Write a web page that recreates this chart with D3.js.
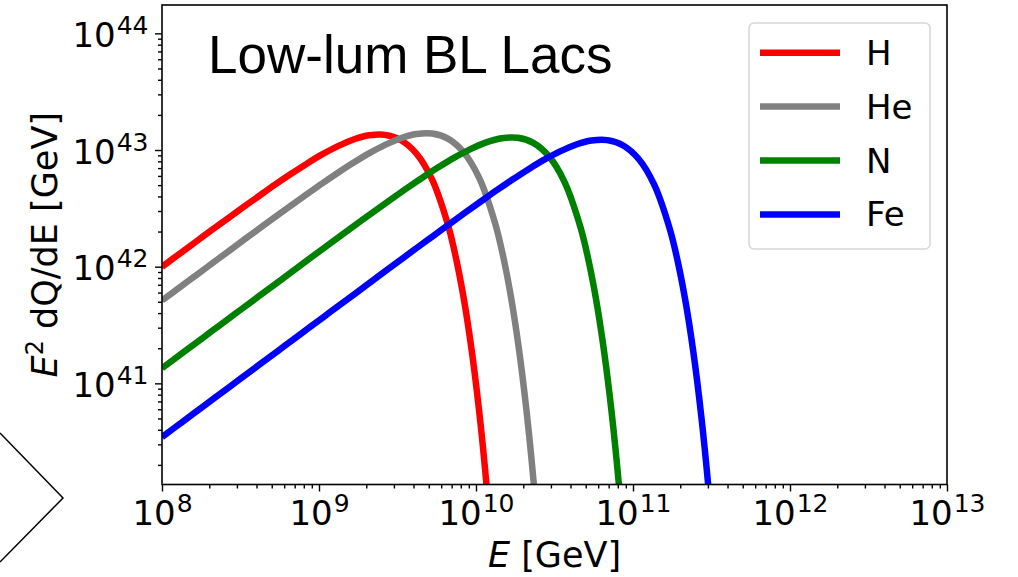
<!DOCTYPE html>
<html>
<head>
<meta charset="utf-8">
<script src="https://cdn.jsdelivr.net/npm/d3@7/dist/d3.min.js"></script>
<style>
body { margin: 0; background: #fff; }
svg { display: block; }
</style>
</head>
<body>
<svg id="chart"></svg>
<script>
(function () {
// log10(E / GeV) and log10(E^2 dQ/dE / GeV)
var hLogE  = [8.0, 8.12, 8.22, 8.32, 8.42, 8.52, 8.62, 8.72, 8.82, 8.92, 9.02, 9.12, 9.22, 9.32, 9.42, 9.52, 9.62, 9.72, 9.82, 9.87, 9.92, 9.97, 10.02, 10.07, 10.12]
var hLogQ  = [41.999, 42.119, 42.218, 42.317, 42.415, 42.512, 42.608, 42.703, 42.794, 42.881, 42.962, 43.033, 43.090, 43.126, 43.130, 43.086, 42.970, 42.748, 42.365, 42.090, 41.743, 41.307, 40.763, 40.086, 39.247]
var heLogE = [8.0, 8.121, 8.221, 8.321, 8.421, 8.521, 8.621, 8.721, 8.821, 8.921, 9.021, 9.121, 9.221, 9.321, 9.421, 9.521, 9.621, 9.721, 9.821, 9.921, 10.021, 10.121, 10.171, 10.221, 10.271, 10.321, 10.371, 10.421]
var heLogQ = [41.710, 41.831, 41.930, 42.030, 42.130, 42.229, 42.328, 42.426, 42.523, 42.619, 42.714, 42.805, 42.892, 42.973, 43.044, 43.101, 43.137, 43.141, 43.097, 42.981, 42.759, 42.376, 42.101, 41.754, 41.318, 40.774, 40.097, 39.258]
var nLogE  = [8.0, 8.165, 8.265, 8.365, 8.465, 8.565, 8.665, 8.765, 8.865, 8.965, 9.065, 9.165, 9.265, 9.365, 9.465, 9.565, 9.665, 9.765, 9.865, 9.965, 10.065, 10.165, 10.265, 10.365, 10.465, 10.565, 10.665, 10.715, 10.765, 10.815, 10.865, 10.915, 10.965]
var nLogQ  = [41.130, 41.295, 41.395, 41.495, 41.595, 41.695, 41.794, 41.894, 41.994, 42.094, 42.193, 42.292, 42.390, 42.487, 42.583, 42.678, 42.769, 42.856, 42.937, 43.008, 43.065, 43.101, 43.105, 43.061, 42.945, 42.723, 42.340, 42.065, 41.718, 41.282, 40.738, 40.061, 39.222]
var feLogE = [8.0, 8.135, 8.235, 8.335, 8.435, 8.535, 8.635, 8.735, 8.835, 8.935, 9.035, 9.135, 9.235, 9.335, 9.435, 9.535, 9.635, 9.735, 9.835, 9.935, 10.035, 10.135, 10.235, 10.335, 10.435, 10.535, 10.635, 10.735, 10.835, 10.935, 11.035, 11.135, 11.235, 11.285, 11.335, 11.385, 11.435, 11.485, 11.535]
var feLogQ = [40.540, 40.675, 40.775, 40.875, 40.975, 41.075, 41.175, 41.275, 41.375, 41.475, 41.575, 41.675, 41.774, 41.874, 41.974, 42.073, 42.173, 42.271, 42.370, 42.467, 42.563, 42.658, 42.749, 42.836, 42.917, 42.988, 43.045, 43.081, 43.085, 43.041, 42.925, 42.703, 42.320, 42.045, 41.698, 41.262, 40.718, 40.041, 39.202]

var species = ['H', 'He', 'N', 'Fe']
var colors  = ['#ff0000', '#808080', '#008000', '#0000ff']
var xTickExp = [8, 9, 10, 11, 12, 13]
var yTickExp = [41, 42, 43, 44]
var title = 'Low-lum BL Lacs'

var series = [
    {name: species[0], color: colors[0], e: hLogE,  q: hLogQ},
    {name: species[1], color: colors[1], e: heLogE, q: heLogQ},
    {name: species[2], color: colors[2], e: nLogE,  q: nLogQ},
    {name: species[3], color: colors[3], e: feLogE, q: feLogQ}
]

var W = 1018, H = 577
var left = 162, right = 947, top = 5, bottom = 484.5
var font = '"DejaVu Sans", sans-serif'

var x = d3.scaleLog().domain([1e8, 1e13]).range([left, right])
var y = d3.scaleLog().domain([Math.pow(10, 40.133), Math.pow(10, 44.243)]).range([bottom, top])

var svg = d3.select('#chart').attr('width', W).attr('height', H)
svg.append('rect').attr('width', W).attr('height', H).attr('fill', '#fff')

// slide decoration on the left
svg.append('path')
    .attr('d', 'M0,433L63,498L0,562')
    .attr('fill', 'none').attr('stroke', '#000').attr('stroke-width', 1.5)

svg.append('clipPath').attr('id', 'plotclip')
    .append('rect').attr('x', left).attr('y', top)
    .attr('width', right - left).attr('height', bottom - top)

// minor ticks
var minorX = [], minorY = []
for (var d = 8; d < 13; d++) for (var m = 2; m < 10; m++) minorX.push(m * Math.pow(10, d))
for (var d = 40; d < 45; d++) for (var m = 2; m < 10; m++) {
    var v = m * Math.pow(10, d)
    if (v >= y.domain()[0] && v <= y.domain()[1]) minorY.push(v)
}

function styleAxis(g) {
    g.select('.domain').remove()
    g.selectAll('.tick line').attr('stroke', '#000').attr('stroke-width', 1.4)
}

svg.append('g').attr('transform', 'translate(0,' + bottom + ')')
    .call(d3.axisBottom(x).tickValues(minorX).tickSize(4).tickFormat(''))
    .call(styleAxis)
svg.append('g').attr('transform', 'translate(' + left + ',0)')
    .call(d3.axisLeft(y).tickValues(minorY).tickSize(4).tickFormat(''))
    .call(styleAxis)

function supLabel(text, exp) {
    text.text(null)
        .attr('font-family', font).attr('font-size', 34).attr('fill', '#000')
    text.append('tspan').text('10')
    text.append('tspan').attr('font-size', 25).attr('dx', 1).attr('dy', -13).text(exp)
}

var gx = svg.append('g').attr('transform', 'translate(0,' + bottom + ')')
    .call(d3.axisBottom(x).tickValues(xTickExp.map(e => Math.pow(10, e))).tickSize(7).tickFormat(''))
    .call(styleAxis)
gx.selectAll('.tick text')
    .attr('y', 40.5).attr('dy', 0)
    .each(function (d, i) { supLabel(d3.select(this), xTickExp[i]) })

var gy = svg.append('g').attr('transform', 'translate(' + left + ',0)')
    .call(d3.axisLeft(y).tickValues(yTickExp.map(e => Math.pow(10, e))).tickSize(7).tickFormat(''))
    .call(styleAxis)
gy.selectAll('.tick text')
    .attr('x', -13.5).attr('dy', 13)
    .each(function (d, i) { supLabel(d3.select(this), yTickExp[i]) })

// curves
var line = d3.line()
    .x(p => x(Math.pow(10, p[0])))
    .y(p => y(Math.pow(10, p[1])))
    .curve(d3.curveCatmullRom.alpha(0.5))

svg.append('g').attr('clip-path', 'url(#plotclip)')
    .selectAll('path')
    .data(series)
    .enter()
    .append('path')
    .attr('d', s => line(s.e.map((e, i) => [e, s.q[i]])))
    .attr('fill', 'none')
    .attr('stroke', s => s.color)
    .attr('stroke-width', 6.5)
    .attr('stroke-linejoin', 'round')

// frame
svg.append('rect')
    .attr('x', left).attr('y', top)
    .attr('width', right - left).attr('height', bottom - top)
    .attr('fill', 'none').attr('stroke', '#000').attr('stroke-width', 1.6)

// title
svg.append('text')
    .attr('x', 208).attr('y', 73)
    .attr('font-family', '"Liberation Sans", Arial, sans-serif')
    .attr('font-size', 53)
    .text(title)

// legend
var lg = svg.append('g')
lg.append('rect')
    .attr('x', 749).attr('y', 23).attr('width', 181).attr('height', 226).attr('rx', 5)
    .attr('fill', '#fff').attr('fill-opacity', 0.8)
    .attr('stroke', '#d6d6d6').attr('stroke-width', 1.5)
lg.selectAll('g.item')
    .data(series)
    .enter()
    .append('g')
    .attr('class', 'item')
    .each(function (s, i) {
        var obj = d3.select(this)
        var yy = 52.7 + i * 53.9
        obj.append('line')
            .attr('x1', 760).attr('x2', 840).attr('y1', yy).attr('y2', yy)
            .attr('stroke', s.color).attr('stroke-width', 6.5)
        obj.append('text')
            .attr('x', 866).attr('y', yy).attr('dy', 12)
            .attr('font-family', font).attr('font-size', 34)
            .text(s.name)
    })

// axis labels
var xl = svg.append('text')
    .attr('x', (left + right) / 2).attr('y', 567)
    .attr('text-anchor', 'middle')
    .attr('font-family', font).attr('font-size', 35)
xl.append('tspan').attr('font-style', 'italic').text('E')
xl.append('tspan').text(' [GeV]')

var yl = svg.append('text')
    .attr('transform', 'translate(57,' + (top + bottom) / 2 + ') rotate(-90)')
    .attr('text-anchor', 'middle')
    .attr('font-family', font).attr('font-size', 35)
yl.append('tspan').attr('font-style', 'italic').text('E')
yl.append('tspan').attr('font-size', 24).attr('dy', -14).text('2')
yl.append('tspan').attr('dy', 14).text(' dQ/dE [GeV]')
})();
</script>
</body>
</html>
